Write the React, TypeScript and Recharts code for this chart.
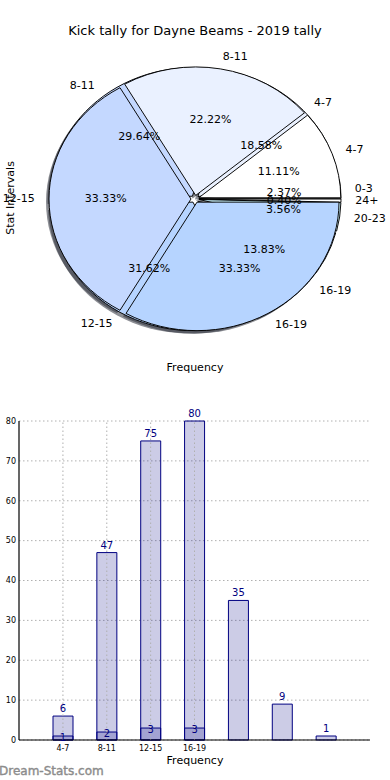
import React from 'react';
import { PieChart, Pie, Cell, Sector, BarChart, Bar, XAxis, YAxis, CartesianGrid, LabelList, ReferenceLine } from 'recharts';

// ---- data ----
const bigCategories = ['0-3', '4-7', '8-11', '12-15', '16-19', '20-23', '24+'];
const bigValues = [6, 47, 75, 80, 35, 9, 1];
const smallCategories = ['4-7', '8-11', '12-15', '16-19'];
const smallValues = [1, 2, 3, 3];
const barTickLabels = ['4-7', '8-11', '12-15', '16-19'];
const yTicks = [0, 10, 20, 30, 40, 50, 60, 70, 80];

const bigColors = ['#FFFFFF', '#EAF1FF', '#C4D8FF', '#B6D4FF', '#B6D4FF', '#CCF5FF', '#FFFFFF'];
const smallColors = ['#FFFFFF', '#EAF1FF', '#C4D8FF', '#B6D4FF'];

const bigPieData = bigCategories.map((name, i) => ({ name, value: bigValues[i] }));
const smallPieData = smallCategories.map((name, i) => ({ name, value: smallValues[i] }));
const barData = bigCategories.map((cat, i) => ({
  cat,
  big: bigValues[i],
  small: i < smallValues.length ? smallValues[i] : null,
}));
const tickedCategories = bigCategories.slice(0, barTickLabels.length);

// ---- pie geometry ----
const CX = 195;
const CY = 199;
const R = 142;
const EXPLODE = 4;
const SY = 0.905;
const RAD = Math.PI / 180;
const FONT = '"DejaVu Sans", Verdana, sans-serif';

const explodedShape = (props: any) => {
  const { cx, cy, midAngle } = props;
  const dx = EXPLODE * Math.cos(-midAngle * RAD);
  const dy = EXPLODE * Math.sin(-midAngle * RAD);
  return <Sector {...props} cx={cx + dx} cy={cy + dy} />;
};

const pieLabel = (props: any) => {
  const { cx, cy, midAngle, outerRadius, percent, name } = props;
  const cos = Math.cos(-midAngle * RAD);
  const sin = Math.sin(-midAngle * RAD);
  const ox = cx + EXPLODE * cos;
  const oy = cy + EXPLODE * sin;
  const lx = ox + outerRadius * 1.1 * cos;
  const ly = oy + outerRadius * 1.1 * sin;
  const px = ox + outerRadius * 0.6 * cos;
  const py = oy + outerRadius * 0.6 * sin;
  return (
    <g>
      <text
        transform={`translate(${lx},${ly}) scale(1,${1 / SY})`}
        textAnchor={cos >= 0 ? 'start' : 'end'}
        dominantBaseline="central"
        fontSize={11}
        fontFamily={FONT}
        fill="#000"
      >
        {name}
      </text>
      <text
        transform={`translate(${px},${py}) scale(1,${1 / SY})`}
        textAnchor="middle"
        dominantBaseline="central"
        fontSize={11}
        fontFamily={FONT}
        fill="#000"
      >
        {(percent * 100).toFixed(2)}%
      </text>
    </g>
  );
};

const shadowProps = {
  dataKey: 'value',
  cx: CX - 3,
  cy: CY + 3 / SY,
  outerRadius: R,
  startAngle: 0,
  endAngle: 360,
  fill: '#2e323c',
  fillOpacity: 0.55,
  stroke: 'none',
  isAnimationActive: false,
  shape: explodedShape,
  inactiveShape: explodedShape,
  activeShape: explodedShape,
};

const PieBlock = () => (
  <div
    style={{
      position: 'absolute',
      left: 0,
      top: 0,
      width: 390,
      height: 400,
      transform: `scaleY(${SY})`,
      transformOrigin: `${CX}px ${CY}px`,
    }}
  >
    <PieChart width={390} height={400} margin={{ top: 0, right: 0, bottom: 0, left: 0 }}>
      {/* shadows */}
      <Pie data={bigPieData} {...(shadowProps as any)} />
      <Pie data={smallPieData} {...(shadowProps as any)} />
      {/* big pie */}
      <Pie
        data={bigPieData}
        dataKey="value"
        cx={CX}
        cy={CY}
        outerRadius={R}
        startAngle={0}
        endAngle={360}
        stroke="#000"
        strokeWidth={1}
        isAnimationActive={false}
        shape={explodedShape}
        inactiveShape={explodedShape}
        activeShape={explodedShape}
      >
        {bigPieData.map((d, i) => (
          <Cell key={d.name} fill={bigColors[i]} />
        ))}
      </Pie>
      {/* small pie */}
      <Pie
        data={smallPieData}
        dataKey="value"
        cx={CX}
        cy={CY}
        outerRadius={R}
        startAngle={0}
        endAngle={360}
        stroke="#000"
        strokeWidth={1}
        isAnimationActive={false}
        shape={explodedShape}
        inactiveShape={explodedShape}
        activeShape={explodedShape}
      >
        {smallPieData.map((d, i) => (
          <Cell key={d.name} fill={smallColors[i]} />
        ))}
      </Pie>
      {/* label layers */}
      <Pie
        data={bigPieData}
        dataKey="value"
        cx={CX}
        cy={CY}
        outerRadius={R}
        startAngle={0}
        endAngle={360}
        fill="none"
        stroke="none"
        isAnimationActive={false}
        labelLine={false}
        label={pieLabel}
      />
      <Pie
        data={smallPieData}
        dataKey="value"
        cx={CX}
        cy={CY}
        outerRadius={R}
        startAngle={0}
        endAngle={360}
        fill="none"
        stroke="none"
        isAnimationActive={false}
        labelLine={false}
        label={pieLabel}
      />
    </PieChart>
  </div>
);

const BarBlock = () => (
  <div style={{ position: 'absolute', left: 0, top: 400, width: 390, height: 380 }}>
    <BarChart width={390} height={380} data={barData} margin={{ top: 21, right: 20, bottom: 0, left: 0 }}>
      <CartesianGrid
        xAxisId="a"
        vertical={false}
        stroke="#b0b0b0"
        strokeDasharray="1.5 2.5"
        strokeWidth={1}
      />
      {tickedCategories.map((c) => (
        <ReferenceLine
          key={c}
          xAxisId="a"
          x={c}
          stroke="#b0b0b0"
          strokeDasharray="1.5 2.5"
          strokeWidth={1}
        />
      ))}
      <XAxis
        xAxisId="a"
        dataKey="cat"
        type="category"
        ticks={tickedCategories}
        tickFormatter={(v: any) => barTickLabels[tickedCategories.indexOf(v)] ?? ''}
        padding={{ left: 22, right: 22 }}
        height={40}
        tickSize={0}
        tickMargin={5}
        tick={{ fontSize: 8, fill: '#000', fontFamily: FONT }}
        axisLine={{ stroke: '#000', strokeWidth: 1.2 }}
        interval={0}
      />
      <XAxis
        xAxisId="b"
        dataKey="cat"
        type="category"
        orientation="top"
        padding={{ left: 22, right: 22 }}
        height={0}
        tick={false}
        tickLine={false}
        axisLine={{ stroke: '#000', strokeWidth: 1.2 }}
      />
      <YAxis
        type="number"
        domain={[0, 80]}
        ticks={yTicks}
        width={19}
        tickSize={0}
        tickMargin={3}
        tick={{ fontSize: 8, fill: '#000', fontFamily: FONT }}
        axisLine={{ stroke: '#000', strokeWidth: 1.2 }}
        interval={0}
      />
      <YAxis
        yAxisId="r"
        orientation="right"
        type="number"
        domain={[0, 80]}
        width={0}
        tick={false}
        tickLine={false}
        axisLine={{ stroke: '#000', strokeWidth: 1.2 }}
      />
      <Bar
        xAxisId="a"
        dataKey="big"
        barSize={20}
        fill="#000080"
        fillOpacity={0.2}
        stroke="#000080"
        strokeWidth={1}
        isAnimationActive={false}
      >
        <LabelList dataKey="big" position="top" offset={4} fill="#000080" fontSize={10} fontFamily={FONT} />
      </Bar>
      <Bar
        xAxisId="b"
        dataKey="small"
        barSize={20}
        fill="#000080"
        fillOpacity={0.2}
        stroke="#000080"
        strokeWidth={1}
        isAnimationActive={false}
      >
        <LabelList dataKey="small" position="top" offset={-5} fill="#000080" fontSize={10} fontFamily={FONT} />
      </Bar>
    </BarChart>
  </div>
);

export default function App() {
  return (
    <div style={{ position: 'fixed', left: 0, top: 0, width: 390, height: 780, background: '#fff', overflow: 'hidden' }}>
      <PieBlock />
      <BarBlock />
      <svg
        width={390}
        height={780}
        style={{ position: 'absolute', left: 0, top: 0, pointerEvents: 'none' }}
      >
        <text x={195} y={30} textAnchor="middle" dominantBaseline="central" fontSize={13} fontFamily={FONT} fill="#000">
          Kick tally for Dayne Beams - 2019 tally
        </text>
        <text x={195} y={367} textAnchor="middle" dominantBaseline="central" fontSize={11} fontFamily={FONT} fill="#000">
          Frequency
        </text>
        <text
          x={10}
          y={198}
          transform="rotate(-90 10 198)"
          textAnchor="middle"
          dominantBaseline="central"
          fontSize={11}
          fontFamily={FONT}
          fill="#000"
        >
          Stat Intervals
        </text>
        <text x={195} y={760} textAnchor="middle" dominantBaseline="central" fontSize={11} fontFamily={FONT} fill="#000">
          Frequency
        </text>
        <text x={-1} y={771} textAnchor="start" dominantBaseline="central" fontSize={12} fontFamily={FONT} fill="#8c8c8c" stroke="#8c8c8c" strokeWidth={0.4}>
          Dream-Stats.com
        </text>
      </svg>
    </div>
  );
}
